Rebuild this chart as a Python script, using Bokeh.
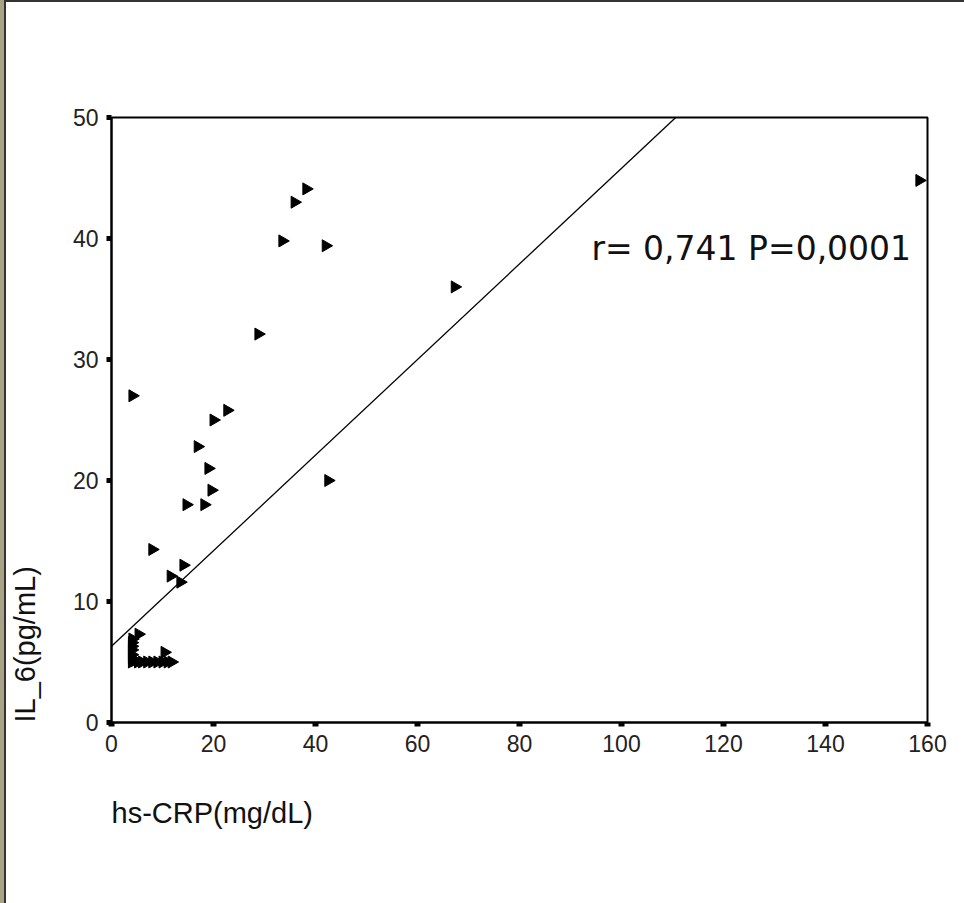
import numpy as np
from bokeh.plotting import figure
from bokeh.models import ColumnDataSource, Label, Range1d, FixedTicker, Title
from bokeh.embed import file_html
from bokeh.resources import INLINE

# ---- data ----
hs_crp = [4.1, 33.5, 35.9, 38.2, 42.0, 28.8, 67.3, 158.4, 42.5, 16.9, 20.0, 22.7,
          19.0, 19.6, 14.7, 18.2, 8.0, 14.1, 11.6, 13.5, 5.3,
          4.0, 4.0, 4.0, 4.0, 4.0, 4.0, 4.1, 4.5, 5.2, 6.0, 7.0, 8.0, 9.0, 10.0,
          11.0, 11.8, 10.4]
il_6 = [27.0, 39.8, 43.0, 44.1, 39.4, 32.1, 36.0, 44.8, 20.0, 22.8, 25.0, 25.8,
        21.0, 19.2, 18.0, 18.0, 14.3, 13.0, 12.1, 11.6, 7.3,
        5.0, 5.3, 5.6, 6.0, 6.3, 6.6, 6.9, 5.1, 5.0, 5.0, 5.0, 5.0, 5.0, 5.0,
        5.0, 5.0, 5.8]
fit_intercept = 6.3
fit_slope = 0.395
x_ticks = [0, 20, 40, 60, 80, 100, 120, 140, 160]
y_ticks = [0, 10, 20, 30, 40, 50]
x_max, y_max = 160, 50
annotation = "r= 0,741 P=0,0001"
x_title = "hs-CRP(mg/dL)"
y_title = "IL_6(pg/mL)"

p = figure(width=964, height=903, output_backend="svg", toolbar_location=None,
           x_range=Range1d(0, x_max), y_range=Range1d(0, y_max),
           min_border_left=110, min_border_right=37, min_border_top=117,
           min_border_bottom=181)
p.background_fill_color = "white"
p.border_fill_color = None
p.styles = {"background-color": "white",
            "box-shadow": "inset 4px 0 0 0 #aaa286, inset 6px 2px 0 0 #333333"}
p.outline_line_color = "black"
p.outline_line_width = 2
p.grid.visible = False

for ax in (p.xaxis[0], p.yaxis[0]):
    ax.axis_line_width = 2
    ax.axis_line_color = "black"
    ax.major_tick_in = 0
    ax.minor_tick_line_color = None
    ax.major_label_text_font = "Liberation Sans"
    ax.major_label_text_font_size = "23px"
    ax.major_label_text_color = "#222222"
    ax.major_label_standoff = 8
p.xaxis[0].ticker = FixedTicker(ticks=x_ticks)
p.yaxis[0].ticker = FixedTicker(ticks=y_ticks)
p.xaxis[0].major_tick_out = 4
p.xaxis[0].major_tick_line_width = 6
p.yaxis[0].major_tick_out = 5
p.yaxis[0].major_tick_line_width = 5

# regression line from x=0 to where it meets the top of the frame
x_end = (y_max - fit_intercept) / fit_slope
p.line([0, x_end], [fit_intercept, fit_intercept + fit_slope * x_end],
       line_color="black", line_width=1.3)

src = ColumnDataSource(dict(x=hs_crp, y=il_6))
p.scatter("x", "y", source=src, marker="triangle", angle=-np.pi / 2,
          size=12, fill_color="black", line_color="black")

p.add_layout(Label(x=94.1, y=39.2, text=annotation, text_font="DejaVu Sans",
                   text_font_size="33px", text_color="#111111",
                   text_baseline="middle", text_align="left"))

p.add_layout(Title(text=x_title, align="left", text_font="Liberation Sans",
                   text_font_size="29px", text_font_style="normal",
                   text_color="#111111", standoff=80), "below")
# spacer between the y axis and its title
p.add_layout(Title(text=" ", text_font_size="1px", standoff=19), "left")
p.add_layout(Title(text=y_title, align="left", text_font="Liberation Sans",
                   text_font_size="29px", text_font_style="normal",
                   text_color="#111111", standoff=13), "left")

open("out.html", "w").write(file_html(p, INLINE))
